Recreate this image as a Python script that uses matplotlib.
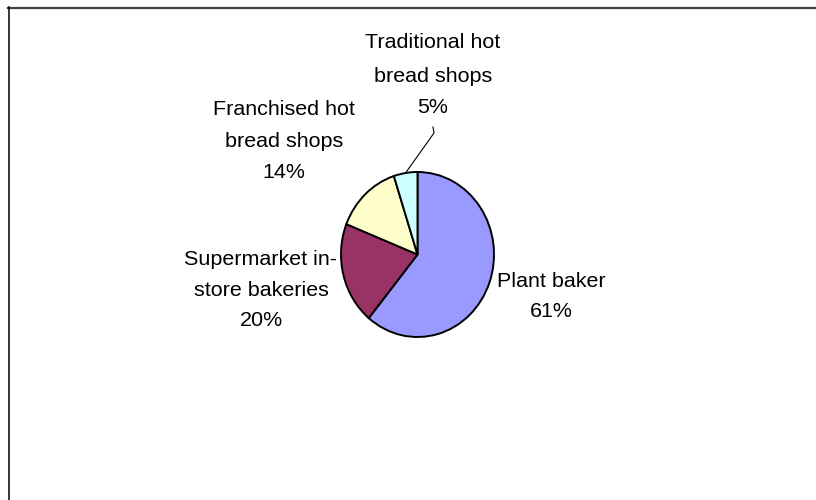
import matplotlib
matplotlib.use("Agg")
import matplotlib.pyplot as plt
from matplotlib.lines import Line2D
import numpy as np

# ---- data ----
categories = ["Plant baker", "Supermarket in-\nstore bakeries",
              "Franchised hot\nbread shops", "Traditional hot\nbread shops"]
values = [61, 20, 14, 5]
colors = ["#9999FF", "#993366", "#FFFFCC", "#CCFFFF"]

# ---- layout (pixels, image coords: origin top-left) ----
W, H = 816, 500
pie_box = (341, 172, 494, 337)            # left, top, right, bottom of ellipse
label_cx = [551, 261, 284, 433]           # horizontal centre of each label
label_base = [[287, 317], [265, 295.5, 326], [115, 147, 178], [48, 81.5, 113]]
leader_pts = [(433, 127), (434, 133)]     # leader for the small slice
font_px = 21.5

plt.rcParams['font.family'] = ['Liberation Sans', 'DejaVu Sans']
fig = plt.figure(figsize=(W / 100, H / 100), dpi=100)
fig.patch.set_facecolor("white")

def fx(x):
    return x / W

def fy(y):
    return 1 - y / H

l, t, r, b = pie_box
ax = fig.add_axes([fx(l), fy(b), (r - l) / W, (b - t) / H])
wedges, _ = ax.pie(values, colors=colors, startangle=90, counterclock=False,
                   radius=1.0,
                   wedgeprops=dict(edgecolor="black", linewidth=1.4))
ax.set_aspect("auto")
ax.set_xlim(-1.0, 1.0)
ax.set_ylim(-1.0, 1.0)
ax.axis("off")
for w in wedges:
    w.set_clip_on(False)

fs_pt = font_px * 72 / 100
for i, (cat, v) in enumerate(zip(categories, values)):
    lines = cat.split("\n") + [f"{v}%"]
    for line, yb in zip(lines, label_base[i]):
        fig.text(fx(label_cx[i]), fy(yb), line, ha="center", va="baseline",
                 fontsize=fs_pt, color="black")

# leader line for Traditional slice (end at slice mid-angle on pie edge)
cum = np.cumsum(values)
mid = (cum[-1] - values[-1] / 2) / cum[-1]
ang = np.deg2rad(90 - 360 * mid)
disp = ax.transData.transform((np.cos(ang), np.sin(ang)))
fxy = fig.transFigure.inverted().transform(disp)
xs = [fx(p[0]) for p in leader_pts] + [fxy[0]]
ys = [fy(p[1]) for p in leader_pts] + [fxy[1]]
fig.add_artist(Line2D(xs, ys, transform=fig.transFigure, color="black", lw=0.8))

# frame
fig.add_artist(Line2D([fx(8), fx(816)], [fy(7.5), fy(7.5)], transform=fig.transFigure,
                      color="#404040", lw=1.6))
fig.add_artist(Line2D([fx(8.5), fx(8.5)], [fy(7), fy(500)], transform=fig.transFigure,
                      color="black", lw=1.1))

fig.savefig("out.png", dpi=100, facecolor="white")
